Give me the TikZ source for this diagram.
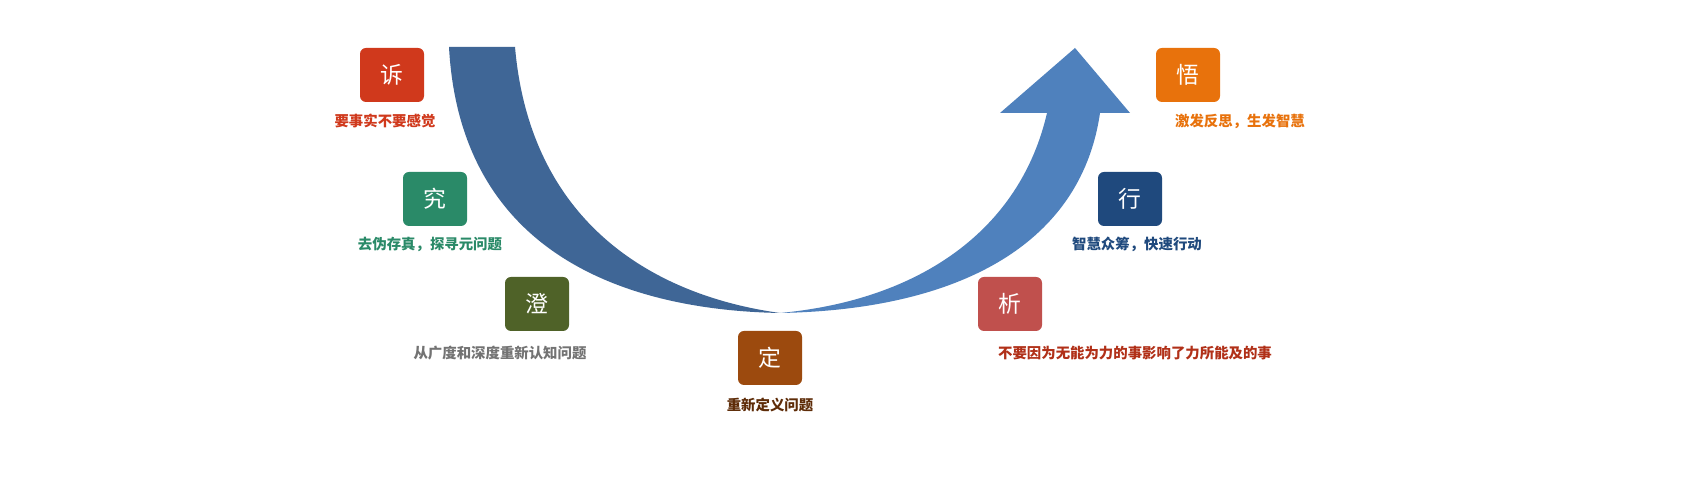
\documentclass[tikz,border=0pt]{standalone}
\usepackage{fontspec}
\newfontfamily\cjk{Noto Sans CJK SC}
\definecolor{cA}{HTML}{D0391C}
\definecolor{cB}{HTML}{2A8A68}
\definecolor{cC}{HTML}{4F6228}
\definecolor{cD}{HTML}{9C4A0E}
\definecolor{cE}{HTML}{C0504D}
\definecolor{cF}{HTML}{1F497D}
\definecolor{cG}{HTML}{E8720C}
\definecolor{bandL}{HTML}{3F6696}
\definecolor{bandR}{HTML}{4F81BD}
\tikzset{
 box/.style={rounded corners=0.06cm, minimum width=0.64cm, minimum height=0.54cm, text=white, font=\cjk\fontsize{6.5pt}{7pt}\selectfont, inner sep=0pt},
 lab/.style={font=\cjk\bfseries\fontsize{4.1pt}{5pt}\selectfont, inner sep=0pt}
}
\begin{document}
\begin{tikzpicture}
\useasboundingbox (0,0) rectangle (17,5);
\fill[white] (0,0) rectangle (17,5);
\fill[bandL] (4.49,4.53) .. controls (4.6,2.5) and (6.2,1.9) .. (7.8,1.87)
  .. controls (6.5,2.05) and (5.3,2.8) .. (5.15,4.53) -- cycle;
\fill[bandR] (7.8,1.87) .. controls (9.5,1.9) and (10.8,2.5) .. (11.0,3.87)
  -- (11.3,3.87) -- (10.75,4.52) -- (10.0,3.87) -- (10.47,3.87)
  .. controls (10.2,2.7) and (9.2,2.0) .. (7.8,1.87) -- cycle;
\node[box,fill=cA] (s) at (3.92,4.25) {诉};
\node[lab,text=cA] (sl) at (3.85,3.79) {要事实不要感觉};
\node[box,fill=cB] (j) at (4.35,3.01) {究};
\node[lab,text=cB] (jl) at (4.30,2.56) {去伪存真，探寻元问题};
\node[box,fill=cC] (c) at (5.37,1.96) {澄};
\node[lab,text=gray!90!black] (cl) at (5.00,1.47) {从广度和深度重新认知问题};
\node[box,fill=cD] (d) at (7.70,1.42) {定};
\node[lab,text=cD!60!black] (dl) at (7.70,0.95) {重新定义问题};
\node[box,fill=cE] (x) at (10.10,1.96) {析};
\node[lab,text=cA!85!black] (xl) at (11.35,1.47) {不要因为无能为力的事影响了力所能及的事};
\node[box,fill=cF] (h) at (11.30,3.01) {行};
\node[lab,text=cF] (hl) at (11.37,2.56) {智慧众筹，快速行动};
\node[box,fill=cG] (w) at (11.88,4.25) {悟};
\node[lab,text=cG] (wl) at (12.40,3.79) {激发反思，生发智慧};
\end{tikzpicture}
\end{document}
